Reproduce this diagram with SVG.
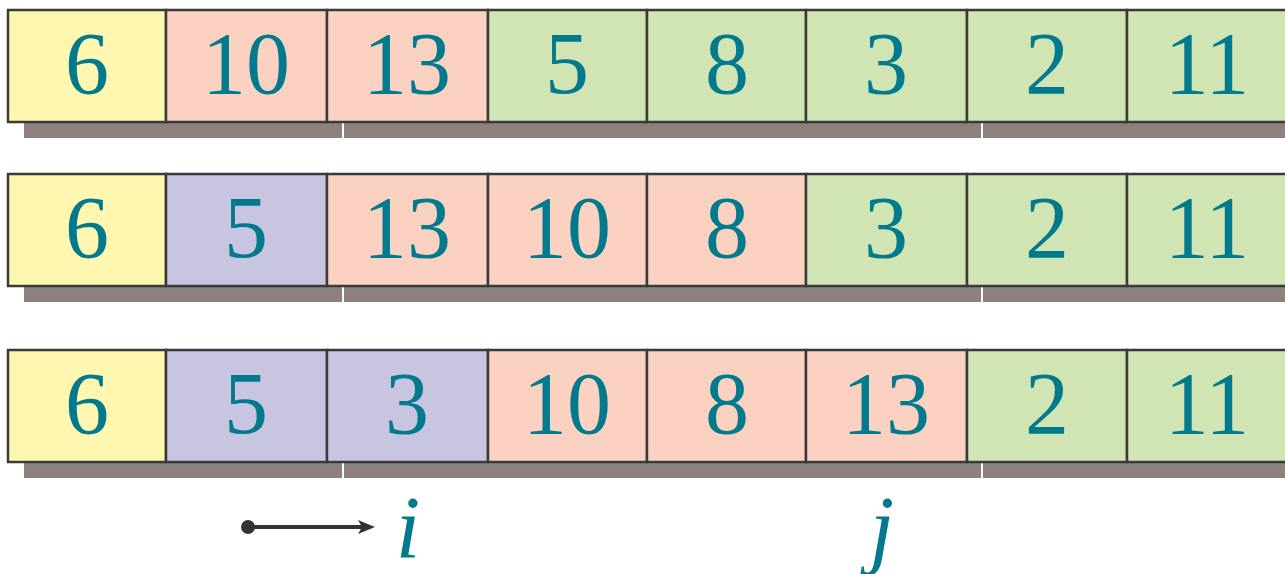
<svg xmlns="http://www.w3.org/2000/svg" width="1285" height="574" viewBox="0 0 1285 574">
<style>
.c rect{stroke:#3a3a3a;stroke-width:2.5}
.y{fill:#FFF7B0}.p{fill:#FBD2C1}.g{fill:#D1E4B3}.v{fill:#C8C5E1}
.sh{fill:#8E817D}
text{font-family:"Liberation Serif","Times New Roman",serif;font-size:88px;fill:#007A8C;text-anchor:middle}
.it{font-style:italic}
</style>
<g id="row1">
<rect class="sh" x="24" y="123" width="318" height="15"/>
<rect class="sh" x="344" y="123" width="637" height="15"/>
<rect class="sh" x="983" y="123" width="302" height="15"/>
<g class="c">
<g id="r1c1"><rect class="y" x="8" y="10" width="158" height="112"/><text x="87" y="93">6</text></g>
<g id="r1c2"><rect class="p" x="166" y="10" width="161" height="112"/><text x="246" y="93">10</text></g>
<g id="r1c3"><rect class="p" x="327" y="10" width="161" height="112"/><text x="407" y="93">13</text></g>
<g id="r1c4"><rect class="g" x="488" y="10" width="159" height="112"/><text x="567" y="93">5</text></g>
<g id="r1c5"><rect class="g" x="647" y="10" width="159" height="112"/><text x="727" y="93">8</text></g>
<g id="r1c6"><rect class="g" x="806" y="10" width="161" height="112"/><text x="886" y="93">3</text></g>
<g id="r1c7"><rect class="g" x="967" y="10" width="160" height="112"/><text x="1047" y="93">2</text></g>
<g id="r1c8"><rect class="g" x="1127" y="10" width="170" height="112"/><text x="1207" y="93">11</text></g>
</g>
</g>
<g id="row2">
<rect class="sh" x="24" y="287" width="318" height="15"/>
<rect class="sh" x="344" y="287" width="637" height="15"/>
<rect class="sh" x="983" y="287" width="302" height="15"/>
<g class="c">
<g id="r2c1"><rect class="y" x="8" y="174" width="158" height="112"/><text x="87" y="257">6</text></g>
<g id="r2c2"><rect class="v" x="166" y="174" width="161" height="112"/><text x="246" y="257">5</text></g>
<g id="r2c3"><rect class="p" x="327" y="174" width="161" height="112"/><text x="407" y="257">13</text></g>
<g id="r2c4"><rect class="p" x="488" y="174" width="159" height="112"/><text x="567" y="257">10</text></g>
<g id="r2c5"><rect class="p" x="647" y="174" width="159" height="112"/><text x="727" y="257">8</text></g>
<g id="r2c6"><rect class="g" x="806" y="174" width="161" height="112"/><text x="886" y="257">3</text></g>
<g id="r2c7"><rect class="g" x="967" y="174" width="160" height="112"/><text x="1047" y="257">2</text></g>
<g id="r2c8"><rect class="g" x="1127" y="174" width="170" height="112"/><text x="1207" y="257">11</text></g>
</g>
</g>
<g id="row3">
<rect class="sh" x="24" y="463" width="318" height="15"/>
<rect class="sh" x="344" y="463" width="637" height="15"/>
<rect class="sh" x="983" y="463" width="302" height="15"/>
<g class="c">
<g id="r3c1"><rect class="y" x="8" y="350" width="158" height="112"/><text x="87" y="433">6</text></g>
<g id="r3c2"><rect class="v" x="166" y="350" width="161" height="112"/><text x="246" y="433">5</text></g>
<g id="r3c3"><rect class="v" x="327" y="350" width="161" height="112"/><text x="407" y="433">3</text></g>
<g id="r3c4"><rect class="p" x="488" y="350" width="159" height="112"/><text x="567" y="433">10</text></g>
<g id="r3c5"><rect class="p" x="647" y="350" width="159" height="112"/><text x="727" y="433">8</text></g>
<g id="r3c6"><rect class="p" x="806" y="350" width="161" height="112"/><text x="886" y="433">13</text></g>
<g id="r3c7"><rect class="g" x="967" y="350" width="160" height="112"/><text x="1047" y="433">2</text></g>
<g id="r3c8"><rect class="g" x="1127" y="350" width="170" height="112"/><text x="1207" y="433">11</text></g>
</g>
</g>
<g id="label-i"><text class="it" x="408" y="557">i</text></g>
<g id="label-j"><text class="it" x="882" y="557">j</text></g>
<g id="connectors">
<circle cx="248" cy="527" r="7" fill="#333"/>
<path d="M248,527 H364" stroke="#333" stroke-width="4" fill="none"/>
<path d="M375,527 L358,520 L362,527 L358,534 Z" fill="#333"/>
</g>
</svg>
